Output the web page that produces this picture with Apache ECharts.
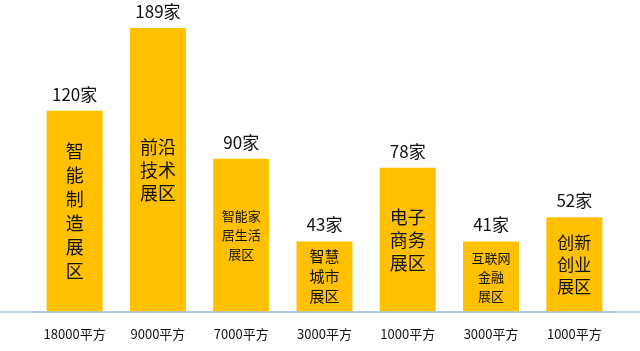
<!DOCTYPE html>
<html><head><meta charset="utf-8">
<script src="https://cdn.jsdelivr.net/npm/echarts@6/dist/echarts.min.js"></script>
<style>html,body{margin:0;padding:0;background:#fff}#c{width:640px;height:351px}</style>
</head><body><div id="c"></div>
<script>
const zones = ['智能\n制造\n展区','前沿\n技术\n展区','智能家\n居生活\n展区','智慧\n城市\n展区','电子\n商务\n展区','互联网\n金融\n展区','创新\n创业\n展区'];
const areas = ['18000平方','9000平方','7000平方','3000平方','1000平方','3000平方','1000平方'];
const counts = [120,189,90,43,78,41,52];
// visual bar heights as drawn in the reference (infographic, not proportional), in count units
const barHeights = [134,189,102,47,96,47,63];

const zoneLabels = ['智\n能\n制\n造\n展\n区','前沿\n技术\n展区','智能家\n居生活\n展区','智慧\n城市\n展区','电子\n商务\n展区','互联网\n金融\n展区','创新\n创业\n展区'];
const innerFont = [18,18,13,15,18,13,17];
const innerLH = [24,23,19,20,23,19,22];

const FONT = '"Noto Sans CJK SC","Microsoft YaHei",sans-serif';
const chart = echarts.init(document.getElementById('c'));
chart.setOption({
  animation:false,
  grid:{left:33,right:24,top:28,bottom:39},
  xAxis:{type:'category',data:areas,
    axisLine:{lineStyle:{color:'#a9c9e6',width:1.5}},
    axisTick:{show:false},
    axisLabel:{color:'#111',fontSize:13,margin:16,fontFamily:FONT}},
  yAxis:{type:'value',min:0,max:189,show:false,splitLine:{show:false}},
  series:[
    {type:'bar',barWidth:56,itemStyle:{color:'#FFC000'},
     data:barHeights.map((v,i)=>({value:v,label:{show:true,position:'inside',formatter:zoneLabels[i],
       fontSize:innerFont[i],lineHeight:innerLH[i],color:'#111',fontFamily:FONT,align:'center'}}))},
    {type:'bar',barWidth:56,barGap:'-100%',silent:true,itemStyle:{color:'rgba(0,0,0,0)'},
     data:barHeights,
     label:{show:true,position:'top',distance:8,fontSize:17,color:'#111',fontFamily:FONT,
       formatter:p=>counts[p.dataIndex]+'家'}}
  ]
});
const y0 = chart.convertToPixel({gridIndex:0},[0,0])[1];
chart.setOption({graphic:[{type:'line',shape:{x1:0,y1:y0,x2:640,y2:y0},style:{stroke:'#a9c9e6',lineWidth:1.5},z:10}]});
</script></body></html>
